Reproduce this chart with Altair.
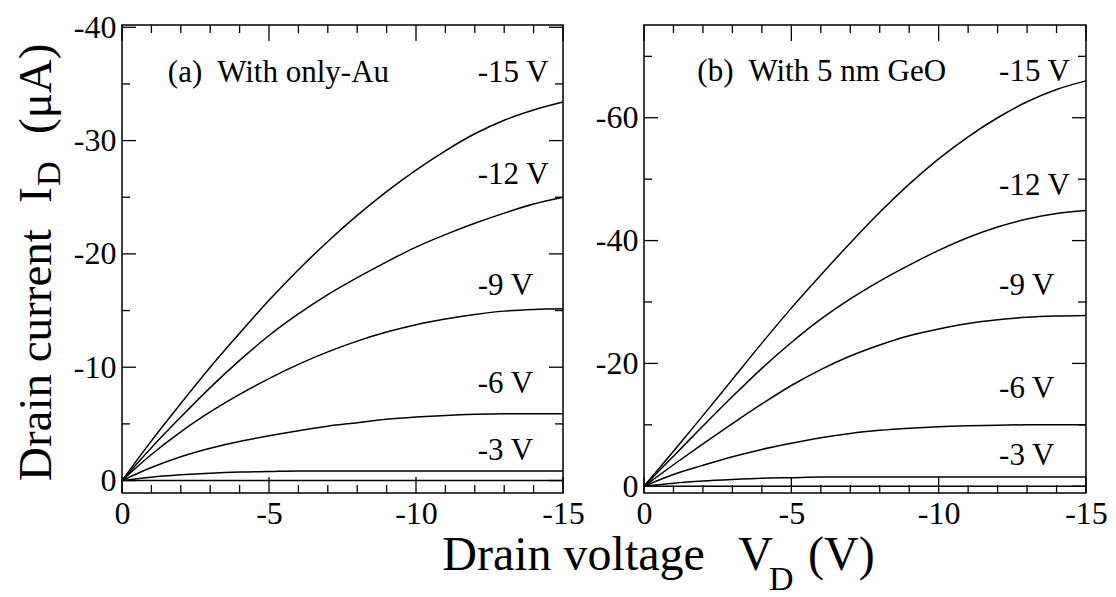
import altair as alt
import pandas as pd

FONT = "Liberation Serif"

# Drain voltage samples (V)
VD = [0, -1, -2, -3, -4, -5, -6, -7, -8, -9, -10, -11, -12, -13, -14, -15]

# (a) With only-Au : drain current (uA) for each gate voltage
a_vg0 = [0, 0, 0, 0, 0, 0, 0, 0, 0, 0, 0, 0, 0, 0, 0, 0]
a_vg3 = [0, -0.3, -0.5, -0.65, -0.75, -0.8, -0.85, -0.85, -0.85, -0.85, -0.85, -0.85, -0.85, -0.85, -0.85, -0.85]
a_vg6 = [0, -1.15, -2.1, -2.85, -3.45, -3.95, -4.4, -4.8, -5.1, -5.4, -5.6, -5.75, -5.85, -5.9, -5.9, -5.9]
a_vg9 = [0, -2.3, -4.3, -6.05, -7.6, -9.0, -10.25, -11.35, -12.3, -13.1, -13.75, -14.25, -14.65, -14.95, -15.1, -15.15]
a_vg12 = [0, -2.9, -5.6, -8.2, -10.6, -12.8, -14.7, -16.4, -17.9, -19.3, -20.6, -21.7, -22.7, -23.6, -24.4, -25.0]
a_vg15 = [0, -3.5, -6.8, -10.0, -13.0, -15.9, -18.6, -21.1, -23.4, -25.5, -27.4, -29.1, -30.6, -31.8, -32.7, -33.4]

# (b) With 5 nm GeO : drain current (uA)
b_vg0 = [0, 0, 0, 0, 0, 0, 0, 0, 0, 0, 0, 0, 0, 0, 0, 0]
b_vg3 = [0, -0.5, -0.85, -1.1, -1.3, -1.4, -1.5, -1.5, -1.5, -1.5, -1.5, -1.5, -1.5, -1.5, -1.5, -1.5]
b_vg6 = [0, -1.9, -3.4, -4.8, -6.0, -7.0, -7.9, -8.6, -9.1, -9.45, -9.7, -9.85, -9.95, -10.0, -10.0, -10.0]
b_vg9 = [0, -3.5, -6.9, -10.2, -13.4, -16.4, -19.0, -21.2, -23.0, -24.5, -25.6, -26.5, -27.1, -27.5, -27.7, -27.8]
b_vg12 = [0, -4.9, -9.8, -14.6, -19.2, -23.4, -27.2, -30.5, -33.4, -36.0, -38.4, -40.5, -42.2, -43.5, -44.4, -44.9]
b_vg15 = [0, -5.7, -11.5, -17.4, -23.3, -29.0, -34.4, -39.6, -44.6, -49.2, -53.3, -56.9, -60.0, -62.6, -64.6, -66.0]

# annotations (text, x in V, y in uA)
a_lab_text = ["(a)\u00a0 With only-Au", "-15 V", "-12 V", "-9 V", "-6 V", "-3 V"]
a_lab_x = [-1.56, -12.1, -12.1, -12.1, -12.1, -12.1]
a_lab_y = [-36.0, -36.0, -27.0, -17.2, -8.5, -2.6]
b_lab_text = ["(b)\u00a0 With 5 nm GeO", "-15 V", "-12 V", "-9 V", "-6 V", "-3 V"]
b_lab_x = [-1.81, -12.05, -12.05, -12.05, -12.05, -12.05]
b_lab_y = [-67.5, -67.5, -48.9, -32.6, -15.8, -4.9]

# tick values
x_major = [0, -5, -10, -15]
x_minor = [-1, -2, -3, -4, -6, -7, -8, -9, -11, -12, -13, -14]
a_y_major = [0, -10, -20, -30, -40]
a_y_minor = [-5, -15, -25, -35]
b_y_major = [0, -20, -40, -60]
b_y_minor = [-10, -30, -50, -70]

ytitle_parts = ["Drain current", "I", "D", "(\u03bcA)"]
xtitle_parts = ["Drain voltage", "V", "D", "(V)"]

W_A, W_B, H = 441, 442, 468
LABEL_EXPR = "datum.value == 0 ? '0' : '-' + format(abs(datum.value), 'd')"


def curves_df(series):
    rows = []
    for vg, vals in series:
        for v, i in zip(VD, vals):
            rows.append({"V": v, "I": i, "VG": vg})
    return pd.DataFrame(rows)


def panel(series, lab_text, lab_x, lab_y, ydomain, ymaj, ymin, W, extra):
    xs = alt.Scale(domain=[0, -15], nice=False, zero=False)
    ys = alt.Scale(domain=ydomain, nice=False, zero=False)
    xaxis = alt.Axis(values=x_major, labelExpr=LABEL_EXPR, ticks=False, tickSize=0, domain=False,
                     grid=False, labelFont=FONT, labelFontSize=32, labelColor="black",
                     labelPadding=5, labelFlush=False, title=None)
    yaxis = alt.Axis(values=ymaj, labelExpr=LABEL_EXPR, ticks=False, tickSize=0, domain=False,
                     grid=False, labelFont=FONT, labelFontSize=32, labelColor="black",
                     labelPadding=6, title=None)
    X = lambda: alt.X("V:Q", scale=xs, axis=xaxis)
    Y = lambda: alt.Y("I:Q", scale=ys, axis=yaxis)

    lines = alt.Chart(curves_df(series)).mark_line(
        color="black", strokeWidth=1.5, interpolate="monotone"
    ).encode(x=X(), y=Y(), detail="VG:N")

    labels = alt.Chart(pd.DataFrame({"V": lab_x, "I": lab_y, "t": lab_text})).mark_text(
        font=FONT, fontSize=31, align="left", baseline="middle", color="black"
    ).encode(x=X(), y=Y(), text="t:N")

    def xrule(vals, y0, y1):
        return alt.Chart(pd.DataFrame({"V": vals})).mark_rule(color="black", strokeWidth=1.3).encode(
            x=X(), y=alt.value(y0), y2=alt.value(y1))

    def yrule(vals, x0, x1):
        return alt.Chart(pd.DataFrame({"I": vals})).mark_rule(color="black", strokeWidth=1.3).encode(
            y=Y(), x=alt.value(x0), x2=alt.value(x1))

    tick_layers = [
        xrule(x_major, H, H - 16), xrule(x_minor, H, H - 8),
        xrule(x_major, 0, 16), xrule(x_minor, 0, 8),
        yrule(ymaj, 0, 14), yrule(ymin, 0, 8),
        yrule(ymaj, W, W - 14), yrule(ymin, W, W - 8),
    ]
    return alt.layer(lines, labels, *tick_layers, *extra).properties(width=W, height=H)


def txt(s, x, y, size, angle=0):
    kw = dict(font=FONT, fontSize=size, align="left", baseline="alphabetic", color="black")
    if angle:
        kw["angle"] = angle
    return alt.Chart(pd.DataFrame({"t": [s]})).mark_text(**kw).encode(
        x=alt.value(x), y=alt.value(y), text="t:N")


bound_rule = alt.Chart(pd.DataFrame({"z": [0]})).mark_rule(color="white", strokeWidth=1).encode(
    x=alt.value(-120.2), y=alt.value(-23.5), y2=alt.value(-12))

extra_left = [
    bound_rule,
    txt(ytitle_parts[0], -70.7, 456, 47, 270),
    txt(ytitle_parts[1], -70.7, 178, 47, 270),
    txt(ytitle_parts[2], -62, 161, 34, 270),
    txt(ytitle_parts[3], -70.7, 109, 47, 270),
    txt(xtitle_parts[0], 320.3, 545, 48),
    txt(xtitle_parts[1], 616.3, 545, 48),
    txt(xtitle_parts[2], 647, 565, 34),
    txt(xtitle_parts[3], 686, 545, 48),
]

left = panel(
    [("0", a_vg0), ("-3", a_vg3), ("-6", a_vg6), ("-9", a_vg9), ("-12", a_vg12), ("-15", a_vg15)],
    a_lab_text, a_lab_x, a_lab_y, [1.1, -40.2], a_y_major, a_y_minor, W_A, extra_left)

right = panel(
    [("0", b_vg0), ("-3", b_vg3), ("-6", b_vg6), ("-9", b_vg9), ("-12", b_vg12), ("-15", b_vg15)],
    b_lab_text, b_lab_x, b_lab_y, [1.1, -75.1], b_y_major, b_y_minor, W_B, [])

chart = alt.hconcat(left, right, spacing=81, bounds="flush", padding=0).configure_view(
    stroke="black", strokeWidth=1.5)

chart.save("out.html", embed_options={"renderer": "svg", "actions": False})
